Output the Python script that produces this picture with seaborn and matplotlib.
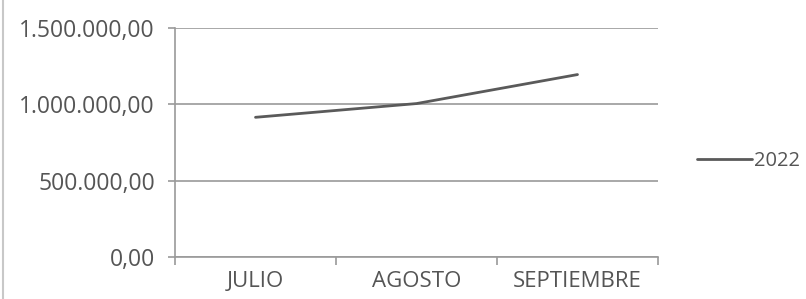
import matplotlib
matplotlib.use("Agg")
import matplotlib.pyplot as plt
import matplotlib.ticker as mticker
from matplotlib.lines import Line2D
import seaborn as sns
import pandas as pd

months = ["JULIO", "AGOSTO", "SEPTIEMBRE"]
values_2022 = [915000, 1005000, 1195000]
series_name = "2022"
y_ticks = [0, 500000, 1000000, 1500000]

sns.set_theme(style="white")
plt.rcParams["font.family"] = ["Open Sans", "DejaVu Sans"]

TEXT = "#555555"
GRID = "#9a9a9a"
LINE = "#5a5a5a"

df = pd.DataFrame({"mes": months, "valor": values_2022, "serie": series_name})

fig = plt.figure(figsize=(8.06, 2.99), dpi=100)
ax = fig.add_axes([175 / 806, 1 - 257 / 299, (658 - 175) / 806, (257 - 28) / 299])

sns.lineplot(data=df, x="mes", y="valor", ax=ax, color=LINE, linewidth=2.0,
             legend=False, sort=False)

ax.set_xlim(-0.5, 2.5)
ax.set_ylim(0, 1500000)
ax.set_yticks(y_ticks)

def fmt(v, pos):
    s = f"{v:,.2f}"
    return s.replace(",", "X").replace(".", ",").replace("X", ".")

ax.yaxis.set_major_formatter(mticker.FuncFormatter(fmt))
ax.set_xticks([0, 1, 2])
ax.set_xticklabels(months)
ax.set_xticks([-0.5, 0.5, 1.5, 2.5], minor=True)

ax.grid(axis="y", color=GRID, linewidth=1.2)
ax.set_axisbelow(True)
ax.set_xlabel("")
ax.set_ylabel("")

for s in ["top", "right"]:
    ax.spines[s].set_visible(False)
ax.spines["left"].set_color(GRID)
ax.spines["bottom"].set_color(GRID)
ax.spines["left"].set_linewidth(1.2)
ax.spines["bottom"].set_linewidth(1.2)

ax.tick_params(axis="y", which="major", length=5, width=1.2, color=GRID,
               labelsize=16.5, labelcolor=TEXT, pad=9.5, left=True)
ax.tick_params(axis="x", which="major", length=0, labelsize=16,
               labelcolor=TEXT, pad=10)
ax.tick_params(axis="x", which="minor", length=6, width=1.2, color=GRID,
               bottom=True)

handle = Line2D([0], [0], color=LINE, linewidth=2.0)
leg = fig.legend([handle], [series_name], loc="center left",
                 bbox_to_anchor=(697 / 806, 1 - 161 / 299), frameon=False,
                 fontsize=14.5, handlelength=2.73, handletextpad=0.1,
                 borderaxespad=0, borderpad=0)
for t in leg.get_texts():
    t.set_color(TEXT)

fig.add_artist(Line2D([2.5 / 806, 2.5 / 806], [0, 1], transform=fig.transFigure,
                      color="#c8c8c8", linewidth=1.5))

fig.savefig("out.png", dpi=100, facecolor="white")
